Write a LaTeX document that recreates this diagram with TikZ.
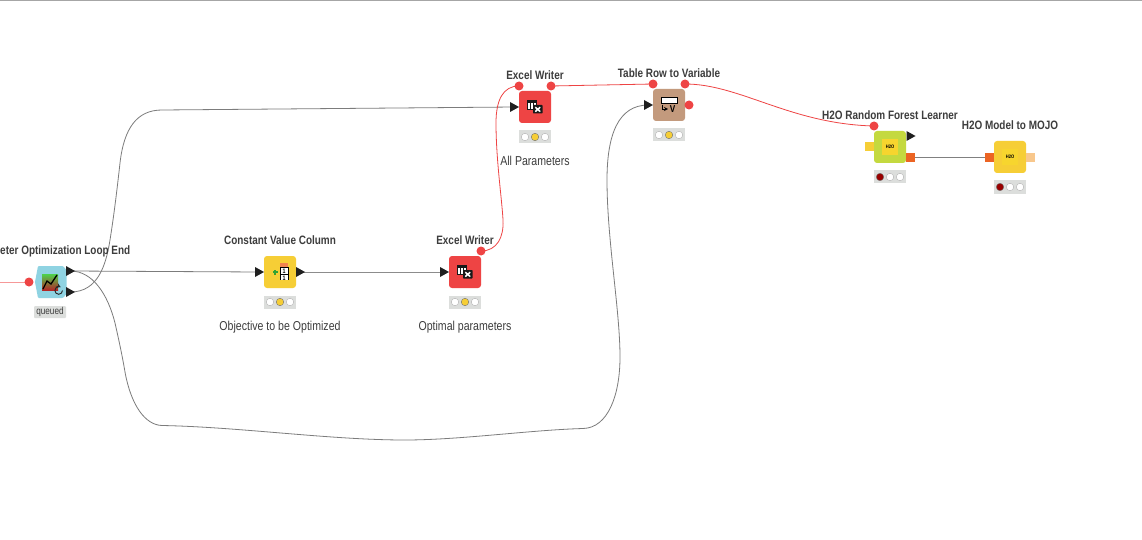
\documentclass[tikz,border=0pt]{standalone}
\usepackage{fontspec}
\setmainfont[FakeStretch=0.82]{Liberation Sans}
\usetikzlibrary{backgrounds,calc}
\definecolor{loopblue}{HTML}{8FD3E2}
\definecolor{knyellow}{HTML}{F6CE36}
\definecolor{knred}{HTML}{EE4444}
\definecolor{kntan}{HTML}{C39A7D}
\definecolor{kngreen}{HTML}{C4D93F}
\definecolor{knorange}{HTML}{EC6423}
\definecolor{lightorange}{HTML}{F8C78C}
\definecolor{statusbg}{HTML}{DCDEDC}
\definecolor{linegray}{HTML}{7C7C7C}
\definecolor{textdark}{HTML}{3D3D3D}
\tikzset{
  x=1pt,y=-1pt,
  body/.style={minimum size=32pt,inner sep=0pt,rounded corners=3pt,draw=none},
  fv/.style={circle,fill=knred,draw=none,minimum size=9pt,inner sep=0pt},
  title/.style={font=\fontsize{12.15}{13}\selectfont\bfseries,text=textdark,inner sep=0pt,text height=9pt,text depth=2.5pt},
  note/.style={font=\fontsize{12.9}{14}\selectfont,text=textdark,inner sep=0pt,text height=9pt,text depth=2.5pt},
  flow/.style={draw=linegray,line width=0.8pt},
  fvlink/.style={draw=knred,line width=0.8pt},
  tri/.pic={\fill[black!88] (-4.5,-5) -- (4.5,0) -- (-4.5,5) -- cycle;},
  portbox/.style={minimum width=9pt,minimum height=9pt,inner sep=0pt,draw=none},
  lamp/.style={circle,minimum size=7.5pt,inner sep=0pt,draw=black!30,line width=0.4pt,fill=white},
  status/.style={minimum width=32pt,minimum height=13pt,inner sep=0pt,fill=statusbg,draw=none},
  hbox/.style={minimum size=16pt,inner sep=0pt,fill=knyellow!85!yellow,draw=none,
     font=\fontsize{5}{5.5}\selectfont\bfseries,text=black},
}
\newcommand{\excelicon}[1]{%
  \fill[black!90] ($(#1)+(-8,-7)$) rectangle ($(#1)+(2,3)$);
  \foreach \i in {0,1,2}{\foreach \j in {0,1}{
    \fill[white] ($(#1)+(-7.4+3.1*\i,-3.6+3*\j)$) rectangle +(2.3,2.2);}}
  \fill[black!90,rounded corners=0.6pt] ($(#1)+(-2,-2)$) rectangle ($(#1)+(7.5,6.5)$);
  \draw[white,line width=1.5pt] ($(#1)+(0.3,0.2)$) -- ($(#1)+(5.2,4.6)$) ($(#1)+(5.2,0.2)$) -- ($(#1)+(0.3,4.6)$);
}
\begin{document}
\begin{tikzpicture}
\useasboundingbox (0,0) rectangle (1142,540);
\fill[black!35] (0,0) rectangle (1142,1);

% ---- node bodies
\node[body,fill=knyellow] (constv) at (280,272) {};
\node[body,fill=knred] (excelA) at (465,272) {};
\node[body,fill=knred] (excelB) at (535,107) {};
\node[body,fill=kntan] (tabvar) at (669,105) {};
\node[body,fill=kngreen] (rf) at (890,147) {};
\node[body,fill=knyellow] (mojo) at (1010,157) {};
\node[minimum size=32pt,inner sep=0pt] (loop) at (51,282) {};
\fill[loopblue,rounded corners=1pt] (38,266) -- (63,266) -- (66.5,270) -- (66.5,294) -- (63,298) -- (38,298) -- (35,282) -- cycle;

% ---- loop end icon
\shade[top color=green!75!black!70,bottom color=red!65!black!85] (42,274) rectangle (58,290);
\draw[black,line width=1.3pt] (43,289) -- (47,281) -- (51,284) -- (57,275);
\draw[black!85,line width=0.9pt,->,>=stealth] (62.5,290.5) arc (0:300:3.8);

% ---- constant value icon
\fill[green!55!black!80] (272.5,271) rectangle (277.5,273);
\fill[green!55!black!80] (274,269.5) rectangle (276,274.5);
\fill[white] (280,267) rectangle (288,280);
\fill[knorange!80] (280,263) rectangle (288,267);
\draw[black,line width=0.8pt] (280,267) -- (280,280) (288,267) -- (288,280) (280,267) -- (288,267) (280,274.5) -- (288,274.5);
\node[inner sep=0pt,font=\fontsize{6.5}{7}\selectfont\bfseries] (constA) at (284,270.8) {1};
\node[inner sep=0pt,font=\fontsize{6.5}{7}\selectfont\bfseries] (constB) at (284,278) {1};

% ---- excel icons
\excelicon{excelA}
\excelicon{excelB}

% ---- table row to variable icon
\fill[white] (661,97) rectangle (677,103);
\draw[black,line width=0.8pt] (661,97) rectangle (677,103);
\draw[black,line width=0.8pt,->,>=stealth] (662.5,105) -- (662.5,109) -- (668,109);
\node[inner sep=0pt,font=\fontsize{10}{11}\selectfont\bfseries] (vmark) at (672.5,109) {V};

% ---- H2O icons
\node[hbox] (rficon) at (890,147) {H2O};
\node[hbox] (mojoicon) at (1010,157) {H2O};

% ---- flow variable ports
\node[fv] (loopfv) at (29,282) {};
\node[fv] (excelAfv) at (481,251) {};
\node[fv] (excelBin) at (519,86) {};
\node[fv] (excelBout) at (551,86) {};
\node[fv] (tabin) at (653,84) {};
\node[fv] (tabout) at (685,84) {};
\node[fv] (tabside) at (689,105) {};
\node[fv] (rffv) at (874,126) {};

% ---- data ports
\coordinate (loopOutA) at (70.5,271);
\coordinate (loopOutB) at (70.5,292);
\coordinate (constIn) at (259.5,272);
\coordinate (constOut) at (300.5,272);
\coordinate (excelAIn) at (444.5,272);
\coordinate (excelBIn) at (514.5,107);
\coordinate (tabIn) at (648.5,105);
\coordinate (rfOut) at (911,136);
\pic at (loopOutA) {tri};
\pic at (loopOutB) {tri};
\pic at (constIn) {tri};
\pic at (constOut) {tri};
\pic at (excelAIn) {tri};
\pic at (excelBIn) {tri};
\pic at (tabIn) {tri};
\pic at (rfOut) {tri};
\node[portbox,fill=knyellow] (rfIn) at (869.5,147) {};
\node[portbox,fill=knorange] (rfModel) at (910.5,157.5) {};
\node[portbox,fill=knorange] (mojoIn) at (989.5,157.5) {};
\node[portbox,fill=lightorange] (mojoOut) at (1030.5,157.5) {};

% ---- status lights
\foreach \nm/\px/\py in {stA/280/302,stB/465/302,stC/535/137,stD/669/135}{
  \node[status] (\nm) at (\px,\py) {};
  \node[lamp] at ($(\nm)+(-10,0)$) {};
  \node[lamp,fill=knyellow,draw=black!55] at (\nm) {};
  \node[lamp] at ($(\nm)+(10,0)$) {};
}
\foreach \nm/\px/\py in {stE/890/177,stF/1010/187}{
  \node[status] (\nm) at (\px,\py) {};
  \node[lamp,fill=red!60!black,draw=black!55] at ($(\nm)+(-10,0)$) {};
  \node[lamp] at (\nm) {};
  \node[lamp] at ($(\nm)+(10,0)$) {};
}
\node[minimum width=32pt,minimum height=12pt,inner sep=0pt,fill=statusbg,rounded corners=1pt,
  font=\fontsize{10}{11}\selectfont,text=textdark] (queued) at (50,312) {queued};

% ---- texts
\node[title,anchor=east] (tLoop) at (130.5,251) {eter Optimization Loop End};
\node[title] (tConst) at (280,241) {Constant Value Column};
\node[title] (tExA) at (465,241) {Excel Writer};
\node[title] (tExB) at (535,76) {Excel Writer};
\node[title] (tTab) at (669,74) {Table Row to Variable};
\node[title] (tRf) at (890,116) {H2O Random Forest Learner};
\node[title] (tMojo) at (1010,126) {H2O Model to MOJO};
\node[note] (nObj) at (280,327) {Objective to be Optimized};
\node[note] (nOpt) at (465,327) {Optimal parameters};
\node[note] (nAll) at (535,162) {All Parameters};

% ---- connectors
\begin{scope}[on background layer]
\fill[white] (0,0) rectangle (1142,540);
\coordinate (leftEdge) at (0,282);
\draw[draw=knred!55,line width=1pt] (leftEdge) -- (loopfv.center);
\draw[flow] (loopOutA) -- (constIn);
\draw[flow,draw=black!45,line width=1pt] (constOut) -- (excelAIn);
\draw[flow] (loopOutA) .. controls (93,271) and (108,295) .. (115,323)
   .. controls (120,345) and (123,360) .. (125,372)
   .. controls (131,405) and (145,425) .. (162,425.5)
   .. controls (240,427) and (330,440) .. (405,440)
   .. controls (460,440) and (530,430) .. (583,428.5)
   .. controls (608,428) and (620,395) .. (620,357)
   .. controls (620,310) and (607,240) .. (607,180)
   .. controls (607,135) and (618,105) .. (tabIn);
\draw[flow] (loopOutB) .. controls (98,292) and (106,265) .. (110,240)
   .. controls (114,215) and (117,190) .. (120,163)
   .. controls (124,128) and (137,110) .. (162,110)
   -- (excelBIn);
\draw[fvlink] (excelAfv.center) .. controls (497,251) and (504,237) .. (503,220)
   .. controls (502,200) and (496,160) .. (496,123)
   .. controls (496,100) and (503,86) .. (excelBin.center);
\draw[fvlink] (excelBout.center) -- (tabin.center);
\draw[fvlink] (tabout.center) .. controls (740,84) and (790,124) .. (rffv.center);
\draw[flow,draw=black!50,line width=1pt] (rfModel) -- (mojoIn);
\end{scope}
\end{tikzpicture}
\end{document}
